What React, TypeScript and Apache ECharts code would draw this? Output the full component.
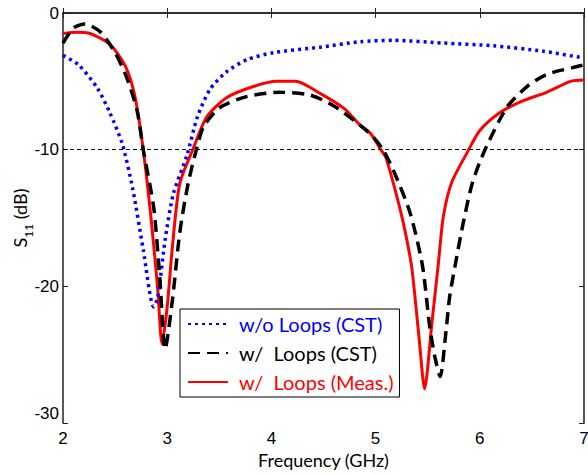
import React, { useEffect, useRef } from "react";
import * as echarts from "echarts";

const xTicks = [2, 3, 4, 5, 6, 7];
const yTicks = [0, -10, -20, -30];

const blueName = "w/o Loops (CST)";
const blackName = "w/  Loops (CST)";
const redName = "w/  Loops (Meas.)";

const blueFreq = [2.0, 2.15, 2.33, 2.45, 2.57, 2.67, 2.77, 2.87, 2.91, 2.98, 3.06, 3.19, 3.29, 3.41, 3.57, 3.77, 4.02, 4.47, 4.85, 5.17, 5.65, 6.13, 6.61, 7.0];
const blueS11 = [-3.1, -3.8, -5.5, -7.3, -9.6, -12.9, -17.3, -21.5, -20.8, -16.6, -13.2, -10.4, -7.6, -5.6, -4.3, -3.4, -2.9, -2.5, -2.1, -2.0, -2.2, -2.4, -2.8, -3.3];

const blackFreq = [2.0, 2.1, 2.21, 2.36, 2.5, 2.61, 2.71, 2.77, 2.87, 2.93, 2.98, 3.05, 3.12, 3.2, 3.28, 3.35, 3.51, 3.77, 4.08, 4.37, 4.6, 4.85, 4.98, 5.07, 5.17, 5.33, 5.45, 5.52, 5.57, 5.62, 5.67, 5.71, 5.76, 5.84, 5.93, 6.05, 6.26, 6.45, 6.64, 6.89, 7.0];
const blackS11 = [-2.2, -1.1, -0.8, -1.4, -2.9, -4.7, -7.1, -10.0, -14.2, -19.5, -24.6, -21.0, -16.1, -12.5, -10.0, -8.3, -6.9, -6.1, -5.8, -6.0, -6.8, -8.2, -9.1, -10.0, -11.5, -14.6, -18.5, -23.0, -25.2, -26.6, -23.7, -20.8, -18.6, -15.4, -12.4, -10.0, -6.9, -5.4, -4.5, -4.0, -3.8];

const redFreq = [2.0, 2.13, 2.26, 2.45, 2.6, 2.69, 2.77, 2.85, 2.91, 2.95, 3.0, 3.05, 3.12, 3.24, 3.38, 3.57, 3.82, 4.05, 4.23, 4.47, 4.7, 4.85, 4.95, 5.05, 5.1, 5.23, 5.3, 5.35, 5.42, 5.47, 5.54, 5.6, 5.65, 5.73, 5.88, 6.0, 6.19, 6.39, 6.64, 6.87, 7.0];
const redS11 = [-1.5, -1.4, -1.5, -2.3, -3.9, -6.1, -10.0, -15.4, -20.3, -24.2, -21.5, -17.1, -12.5, -10.1, -7.6, -6.2, -5.4, -5.0, -5.0, -5.9, -7.0, -8.2, -8.8, -10.0, -10.6, -14.2, -16.6, -18.8, -24.0, -27.5, -22.7, -18.5, -14.9, -12.4, -10.2, -8.6, -7.3, -6.5, -5.8, -5.0, -4.9];

const refLevel = -10;

const zip = (xs: number[], ys: number[]) => xs.map((x, i) => [x, ys[i]]);

export default function App() {
  const ref = useRef<HTMLDivElement>(null);
  useEffect(() => {
    if (!ref.current) return;
    const chart = echarts.init(ref.current, null, { renderer: "svg" });
    const axisColor = "#222";
    const tickFont = { fontFamily: "Liberation Sans", fontSize: 17, color: "#000" };
    chart.setOption({
      animation: false,
      backgroundColor: "#fff",
      grid: { left: 63, right: 4, top: 13, bottom: 51, containLabel: false, outerBoundsMode: "none" },
      legend: {
        orient: "vertical",
        left: 180,
        top: 309,
        backgroundColor: "#fff",
        borderColor: "#000",
        borderWidth: 1,
        padding: [5, 6, 5, 7],
        itemGap: 9,
        itemWidth: 40,
        itemHeight: 20,
        itemStyle: { opacity: 0 },
        textStyle: { fontFamily: "Lato", fontSize: 20, padding: [0, 0, 0, 6] },
        data: [
          { name: blueName, textStyle: { color: "#0000ff" } },
          { name: blackName, textStyle: { color: "#000" } },
          { name: redName, textStyle: { color: "#ff0000" } },
        ],
      },
      xAxis: [
        {
          type: "value",
          min: 2,
          max: 7,
          interval: 1,
          name: "Frequency (GHz)",
          nameLocation: "middle",
          nameGap: 28,
          nameMoveOverlap: false,
          nameTextStyle: { fontFamily: "Lato", fontSize: 18, color: "#000" },
          axisLine: { show: true, lineStyle: { color: axisColor, width: 1.5 } },
          axisTick: { show: true, inside: true, length: 5, lineStyle: { color: axisColor } },
          axisLabel: { ...tickFont, margin: 7, customValues: xTicks },
          splitLine: { show: false },
        },
        {
          type: "value",
          position: "top",
          min: 2,
          max: 7,
          interval: 1,
          axisLine: { show: true, lineStyle: { color: axisColor, width: 1.5 } },
          axisTick: { show: true, inside: true, length: 5, lineStyle: { color: axisColor } },
          axisLabel: { show: false },
          splitLine: { show: false },
        },
      ],
      yAxis: [
        {
          type: "value",
          min: -30,
          max: 0,
          interval: 10,
          name: "{a|S}{b|11}{a| (dB)}",
          nameLocation: "middle",
          nameRotate: 90,
          nameGap: 32,
          nameMoveOverlap: false,
          nameTextStyle: {
            rich: {
              a: { fontFamily: "Lato", fontSize: 18, color: "#000", lineHeight: 22, verticalAlign: "middle" },
              b: { fontFamily: "Lato", fontSize: 12, color: "#000", lineHeight: 12, verticalAlign: "bottom", padding: [0, 0, -3, 0] },
            },
          },
          axisLine: { show: true, lineStyle: { color: axisColor, width: 1.5 } },
          axisTick: { show: true, inside: true, length: 5, lineStyle: { color: axisColor } },
          axisLabel: {
            ...tickFont,
            margin: 4,
            customValues: yTicks,
            formatter: (v: number) => (v === -30 ? "{up|-30}" : String(v)),
            rich: { up: { ...tickFont, padding: [0, 0, 20, 0] } },
          },
          splitLine: { show: false },
        },
        {
          type: "value",
          position: "right",
          min: -30,
          max: 0,
          interval: 10,
          axisLine: { show: true, lineStyle: { color: "#555", width: 2 } },
          axisTick: { show: true, inside: true, length: 5, lineStyle: { color: axisColor } },
          axisLabel: { show: false },
          splitLine: { show: false },
        },
      ],
      series: [
        {
          name: blueName,
          type: "line",
          data: zip(blueFreq, blueS11),
          symbol: "none",
          smooth: 0.25,
          lineStyle: { color: "#0000ff", width: 3.5, type: [3, 4] },
          itemStyle: { color: "#0000ff" },
          z: 3,
        },
        {
          name: blackName,
          type: "line",
          data: zip(blackFreq, blackS11),
          symbol: "none",
          smooth: 0.25,
          lineStyle: { color: "#000", width: 3.5, type: [12, 7] },
          itemStyle: { color: "#000" },
          z: 4,
          markLine: {
            silent: true,
            symbol: "none",
            label: { show: false },
            lineStyle: { color: "#000", width: 1, type: [4, 3] },
            data: [{ yAxis: refLevel }],
          },
        },
        {
          name: redName,
          type: "line",
          data: zip(redFreq, redS11),
          symbol: "none",
          smooth: 0.25,
          lineStyle: { color: "#ff0000", width: 3 },
          itemStyle: { color: "#ff0000" },
          z: 2,
        },
      ],
    });
    return () => chart.dispose();
  }, []);
  return <div ref={ref} style={{ width: 588, height: 474, position: "absolute", left: 0, top: 0 }} />;
}
